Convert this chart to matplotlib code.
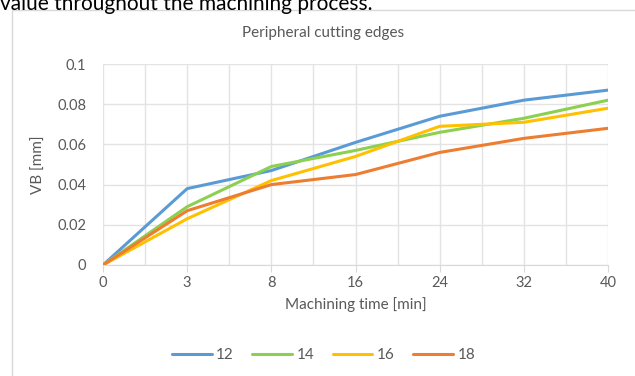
import matplotlib.pyplot as plt
from matplotlib.patches import Rectangle

plt.rcParams['font.family'] = ['Lato', 'DejaVu Sans']

times = ['0', '3', '8', '16', '24', '32', '40']
vb_12 = [0, 0.038, 0.047, 0.061, 0.074, 0.082, 0.087]
vb_14 = [0, 0.029, 0.049, 0.057, 0.066, 0.073, 0.082]
vb_16 = [0, 0.023, 0.042, 0.054, 0.069, 0.071, 0.078]
vb_18 = [0, 0.027, 0.040, 0.045, 0.056, 0.063, 0.068]
series_names = ['12', '14', '16', '18']
colors = ['#5B9BD5', '#8CD050', '#FFC000', '#ED7D31']

gray = '#595959'
fig = plt.figure(figsize=(6.35, 3.76), dpi=100)
ax = fig.add_axes([103/635, 1-265/376, 505/635, 201/376])

x = list(range(len(times)))
for vals, name, c in zip([vb_12, vb_14, vb_16, vb_18], series_names, colors):
    ax.plot(x, vals, color=c, lw=2.2, label=name, solid_capstyle='round')

ax.set_xlim(0, len(times) - 1)
ax.set_ylim(0, 0.1)
ax.set_xticks(x)
ax.set_xticklabels(times)
ax.set_xticks([i + 0.5 for i in x[:-1]], minor=True)
ax.set_yticks([0, 0.02, 0.04, 0.06, 0.08, 0.1])
ax.set_yticklabels(['0', '0.02', '0.04', '0.06', '0.08', '0.1'])
ax.grid(True, which='both', color='#E3E3E3', lw=1)
ax.set_axisbelow(True)
for s in ['top', 'right', 'left']:
    ax.spines[s].set_visible(False)
ax.spines['bottom'].set_color('#D9D9D9')
ax.tick_params(axis='x', which='major', length=5, color='#D9D9D9', labelcolor=gray, labelsize=10.5, pad=3)
ax.tick_params(axis='x', which='minor', length=0)
ax.tick_params(axis='y', length=0, labelcolor=gray, labelsize=10.5, pad=12)

ax.set_xlabel('Machining time [min]', color=gray, fontsize=11, labelpad=5)
ax.set_ylabel('VB [mm]', color=gray, fontsize=11, labelpad=8)
fig.text(0.5 + 12/635/2, 1-33/376, 'Peripheral cutting edges', ha='center', va='center',
         color=gray, fontsize=11)

leg = fig.legend(loc='center', bbox_to_anchor=(0.5 + 12/635/2, 1-355/376), ncol=4, frameon=False,
                 handlelength=2.6, columnspacing=1.2, handletextpad=0.3, fontsize=11)
for t in leg.get_texts():
    t.set_color(gray)

fig.patches.append(Rectangle((12/635, -0.05), 1.1, 1.05 - 10/376 + 0.0, transform=fig.transFigure,
                             fill=False, edgecolor='#D9D9D9', lw=1))
fig.text(0.0, 1.0 + 6/376, 'value throughout the machining process.', ha='left', va='top',
         fontsize=15, color='black')

fig.savefig('out.png', dpi=100)
